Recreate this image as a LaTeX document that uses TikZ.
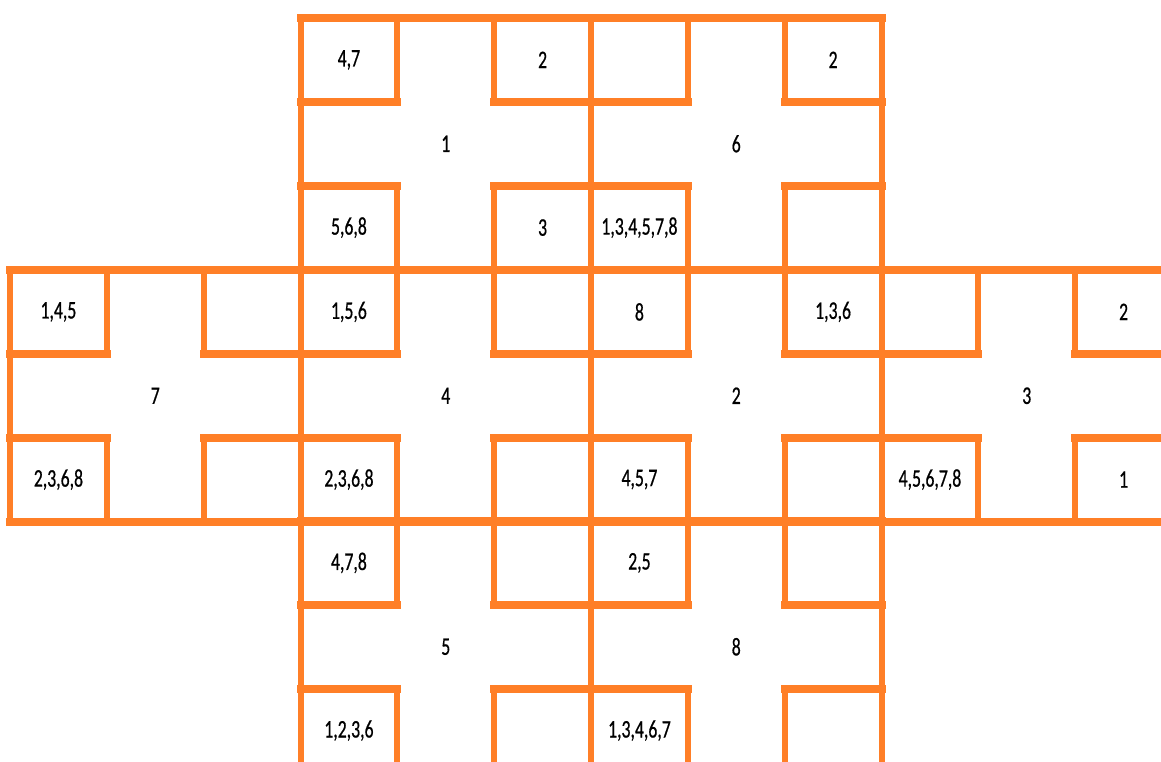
\documentclass[tikz,border=0pt]{standalone}
\usepackage{fontspec}
\setmainfont{Carlito}[FakeBold=0.8]
\definecolor{grid}{RGB}{255,127,39}
\def\CW{290.5}
\def\CH{251.5}
\newcommand\lbl[1]{\scalebox{0.7}[1]{#1}}
\newcommand\putlbl[3]{\if\relax\detokenize{#3}\relax\else\node[txt] (#1) at #2 {\lbl{#3}};\fi}
\newcommand\cellbox[8]{%
  \begin{scope}[shift={(#1,#2)}]
    \draw[hl] (0,0) -- (\CW,0);
    \draw[hl] (0,\CH) -- (\CW,\CH);
    \draw[vl] (0,0) -- (0,\CH);
    \draw[vl] (\CW,0) -- (\CW,\CH);
    % top-left box
    \draw[hl] (0,\CH/3) -- (\CW/3,\CH/3);
    \draw[vl] (\CW/3,0) -- (\CW/3,\CH/3);
    % top-right box
    \draw[hl] (2*\CW/3,\CH/3) -- (\CW,\CH/3);
    \draw[vl] (2*\CW/3,0) -- (2*\CW/3,\CH/3);
    % bottom-left box
    \draw[hl] (0,2*\CH/3) -- (\CW/3,2*\CH/3);
    \draw[vl] (\CW/3,2*\CH/3) -- (\CW/3,\CH);
    % bottom-right box
    \draw[hl] (2*\CW/3,2*\CH/3) -- (\CW,2*\CH/3);
    \draw[vl] (2*\CW/3,2*\CH/3) -- (2*\CW/3,\CH);
    \node[txt] (#3) at (\CW/2,\CH/2) {\lbl{#4}};
    \putlbl{#3tl}{(\CW/6,\CH/6)}{#5}
    \putlbl{#3tr}{(5*\CW/6,\CH/6)}{#6}
    \putlbl{#3bl}{(\CW/6,5*\CH/6)}{#7}
    \putlbl{#3br}{(5*\CW/6,5*\CH/6)}{#8}
  \end{scope}}
\begin{document}
\begin{tikzpicture}[x=0.75pt,y=-0.75pt,
  hl/.style={draw=grid,line width=6pt,line cap=rect},
  vl/.style={draw=grid,line width=4.5pt,line cap=rect},
  txt/.style={inner sep=0pt,text=black,font=\fontsize{19}{22}\selectfont}]
\useasboundingbox (0,0) rectangle (1161,761);
\clip (0,0) rectangle (1161,761);
% row 0
\cellbox{300.5}{18}{cA}{1}{4,7}{2}{5,6,8}{3}
\cellbox{591}{18}{cB}{6}{}{2}{1,3,4,5,7,8}{}
% row 1
\cellbox{10}{270}{cC}{7}{1,4,5}{}{2,3,6,8}{}
\cellbox{300.5}{270}{cD}{4}{1,5,6}{}{2,3,6,8}{}
\cellbox{591}{270}{cE}{2}{8}{1,3,6}{4,5,7}{}
\cellbox{881.5}{270}{cF}{3}{}{2}{4,5,6,7,8}{1}
% row 2
\cellbox{300.5}{521}{cG}{5}{4,7,8}{}{1,2,3,6}{}
\cellbox{591}{521}{cH}{8}{2,5}{}{1,3,4,6,7}{}
\end{tikzpicture}
\end{document}
